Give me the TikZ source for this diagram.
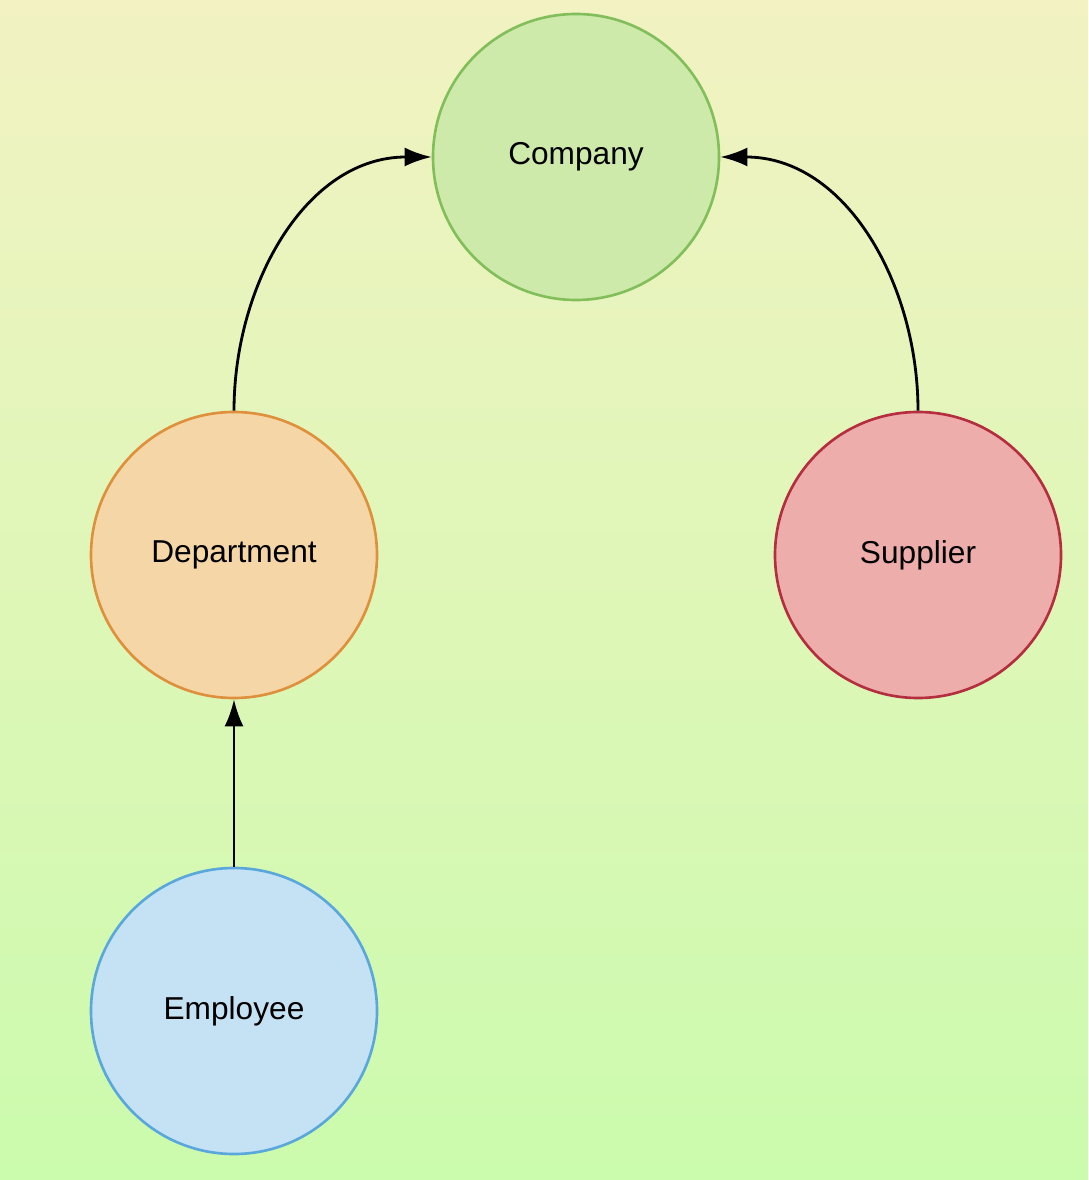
\documentclass[tikz,border=0pt]{standalone}
\usepackage{fontspec}
\setmainfont{Liberation Sans}
\usetikzlibrary{arrows.meta}
\definecolor{bgtop}{HTML}{F2F2C2}
\definecolor{bgbottom}{HTML}{CBFBAD}
\definecolor{compfill}{HTML}{CDEAAB}
\definecolor{compline}{HTML}{82BF5B}
\definecolor{deptfill}{HTML}{F5D7A7}
\definecolor{deptline}{HTML}{DF903D}
\definecolor{suppfill}{HTML}{EDADAA}
\definecolor{suppline}{HTML}{B52E40}
\definecolor{empfill}{HTML}{C5E2F5}
\definecolor{empline}{HTML}{5AA7DB}
\newcommand{\entitysize}{286}

\begin{document}
\begin{tikzpicture}[x=0.01cm,y=-0.01cm,
	entity/.style={circle, minimum size=\entitysize*0.01cm, inner sep=0pt,
		line width=0.75pt, font=\fontsize{9}{10}\selectfont},
	link/.style={line width=0.8pt, -{Latex[length=0.27cm,width=0.19cm]}}]
	\shade[top color=bgtop, bottom color=bgbottom] (0,0) rectangle (1088,1180);
	\useasboundingbox (0,0) rectangle (1088,1180);

	\node[entity, fill=compfill, draw=compline] (company) at (576,157) {Company};
	\node[entity, fill=deptfill, draw=deptline] (department) at (234,555) {Department};
	\node[entity, fill=suppfill, draw=suppline] (supplier) at (918,555) {Supplier};
	\node[entity, fill=empfill, draw=empline] (employee) at (234,1011) {Employee};

	\draw[link] (department.north) to[out=90, in=180] (company.west);
	\draw[link] (supplier.north) to[out=90, in=0] (company.east);
	\draw[link] (employee.north) -- (department.south);

\end{tikzpicture}
\end{document}
